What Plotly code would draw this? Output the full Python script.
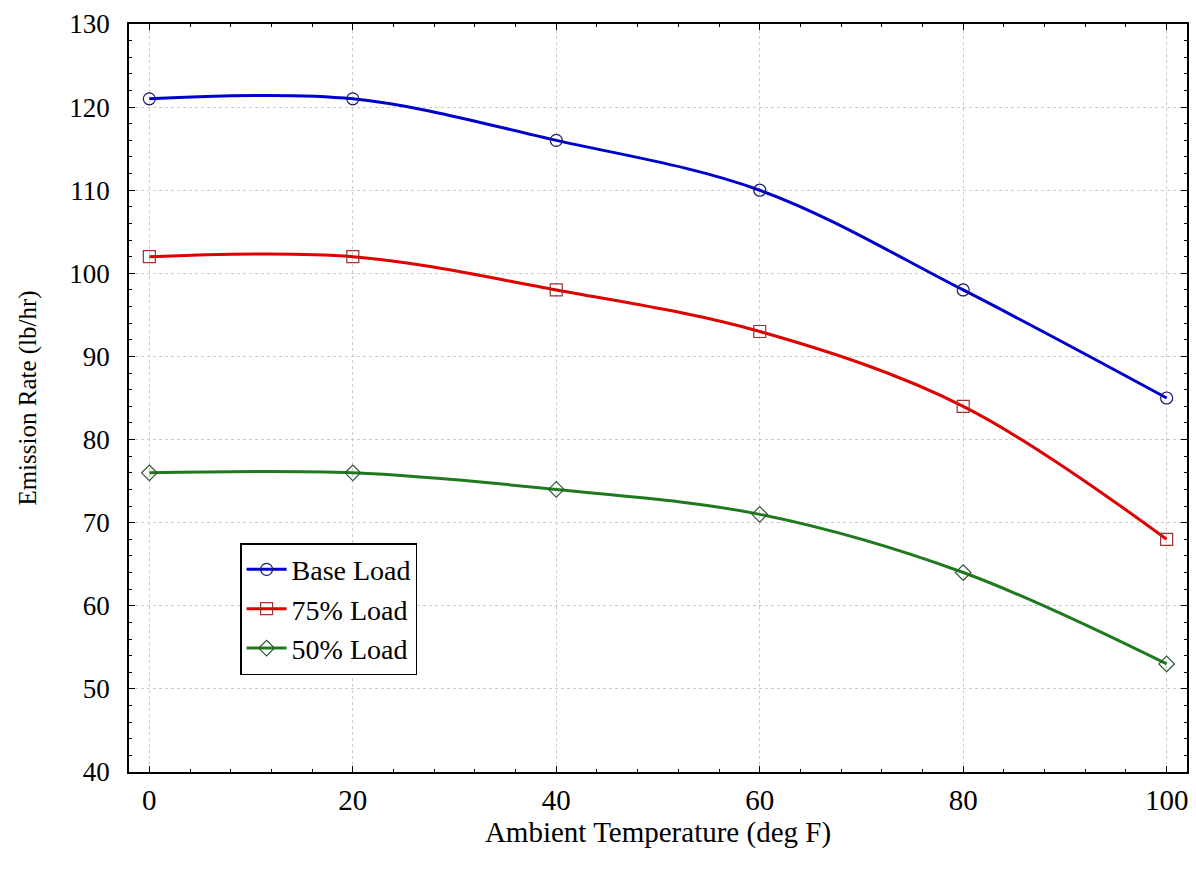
import plotly.graph_objects as go

temps = [0, 20, 40, 60, 80, 100]
base_load = [121, 121, 116, 110, 98, 85]
load_75 = [102, 102, 98, 93, 84, 68]
load_50 = [76, 76, 74, 71, 64, 53]

series = [
    ("Base Load", base_load, "#0000CC", "circle-open", "#1a1a66"),
    ("75% Load", load_75, "#E00000", "square-open", "#993333"),
    ("50% Load", load_50, "#1F7A1F", "diamond-open", "#335533"),
]

FONT = "Liberation Serif, Times New Roman, serif"

fig = go.Figure()
for name, ys, col, sym, mcol in series:
    fig.add_trace(go.Scatter(
        x=temps, y=ys, name=name, mode="lines+markers",
        line=dict(color=col, width=3, shape="spline", smoothing=1.0),
        marker=dict(symbol=sym, size=12, color=mcol, line=dict(width=1.2, color=mcol)),
    ))

axis_common = dict(
    showline=True, linecolor="black", linewidth=1.5, mirror="ticks",
    ticks="inside", ticklen=6, tickcolor="black",
    showgrid=True, gridcolor="#cccccc", griddash="dot", gridwidth=1,
    zeroline=False, automargin=False,
)

fig.update_xaxes(
    range=[-2, 102], tickvals=[0, 20, 40, 60, 80, 100],
    tickfont=dict(family=FONT, size=29, color="black"),
    ticklabelstandoff=1,
    minor=dict(dtick=4, ticks="inside", ticklen=3, tickcolor="black", showgrid=False),
    title=dict(text="Ambient Temperature (deg F)", font=dict(family=FONT, size=29, color="black"), standoff=1),
    **axis_common,
)
fig.update_yaxes(
    range=[40, 130], dtick=10,
    tickfont=dict(family=FONT, size=27, color="black"),
    ticklabelstandoff=12,
    minor=dict(dtick=2, ticks="inside", ticklen=3, tickcolor="black", showgrid=False),
    title=dict(text="Emission Rate (lb/hr)", font=dict(family=FONT, size=25, color="black"), standoff=26),
    **axis_common,
)

fig.update_layout(
    width=1196, height=869,
    margin=dict(l=129, r=9, t=24, b=97),
    paper_bgcolor="white", plot_bgcolor="white",
    font=dict(family=FONT, color="black"),
    showlegend=True,
    legend=dict(
        x=0.105, y=0.306, xanchor="left", yanchor="top",
        bgcolor="white", bordercolor="black", borderwidth=1.5,
        font=dict(family=FONT, size=28, color="black"),
        itemwidth=40,
    ),
)

fig.write_html("out.html", config={"displayModeBar": False},
               post_script="document.body.style.margin='0';")
